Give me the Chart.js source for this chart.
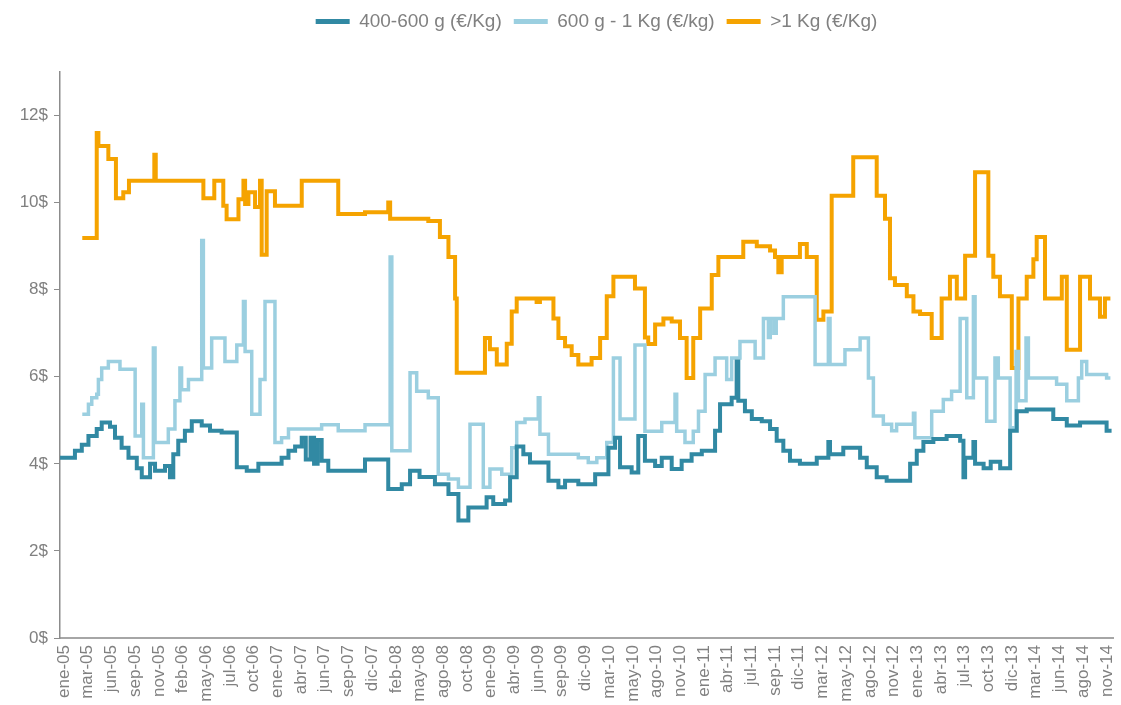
<!DOCTYPE html>
<html>
<head>
<meta charset="utf-8">
<script src="https://cdn.jsdelivr.net/npm/chart.js@4.4.0/dist/chart.umd.min.js"></script>
<style>
  html, body { margin: 0; padding: 0; background: #fff; }
</style>
</head>
<body>
<canvas id="chart" width="1121" height="705"></canvas>
<script>
/* ------------------------------------------------------------
   DATA  (x = position in tick-label units: 0 = ene-05 ... 44 = nov-14)
   each pair is [x, price] at the point where the price changes
   ------------------------------------------------------------ */
const tickLabels = [
  'ene-05', 'mar-05', 'jun-05', 'sep-05', 'nov-05',
  'feb-06', 'may-06', 'jul-06', 'oct-06',
  'ene-07', 'abr-07', 'jun-07', 'sep-07', 'dic-07',
  'feb-08', 'may-08', 'ago-08', 'oct-08',
  'ene-09', 'abr-09', 'jun-09', 'sep-09', 'dic-09',
  'mar-10', 'may-10', 'ago-10', 'nov-10',
  'ene-11', 'abr-11', 'jul-11', 'sep-11', 'dic-11',
  'mar-12', 'may-12', 'ago-12', 'nov-12',
  'ene-13', 'abr-13', 'jul-13', 'oct-13', 'dic-13',
  'mar-14', 'jun-14', 'ago-14', 'nov-14'
];

const yTicks = [0, 2, 4, 6, 8, 10, 12];

const seriesNames = ['400-600 g (€/Kg)', '600 g - 1 Kg (€/kg)', '>1 Kg (€/Kg)'];

// 400-600 g
const small400 = [
  [-0.17, 4.14], [0.46, 4.3], [0.75, 4.44], [1.03, 4.64], [1.38, 4.8], [1.59, 4.95],
  [1.94, 4.85], [2.15, 4.6], [2.43, 4.37], [2.72, 4.14], [3.07, 3.9], [3.28, 3.69],
  [3.63, 4.0], [3.84, 3.84], [4.26, 3.95], [4.47, 3.69], [4.61, 4.22], [4.82, 4.53],
  [5.1, 4.76], [5.39, 4.98], [5.81, 4.88], [6.16, 4.76], [6.65, 4.72], [7.29, 3.92],
  [7.71, 3.84], [8.2, 4.0], [9.18, 4.14], [9.47, 4.3], [9.75, 4.4], [10.03, 4.6],
  [10.2, 4.1], [10.4, 4.6], [10.55, 4.0], [10.7, 4.55], [10.87, 4.07], [11.15, 3.84],
  [12.7, 4.1], [13.68, 3.42], [14.25, 3.53], [14.6, 3.84], [15.0, 3.7], [15.65, 3.53],
  [16.22, 3.31], [16.64, 2.7], [17.06, 3.0], [17.83, 3.23], [18.11, 3.08], [18.61, 3.16],
  [18.82, 3.69], [19.1, 4.4], [19.38, 4.22], [19.66, 4.03], [20.44, 3.61], [20.86, 3.46],
  [21.14, 3.61], [21.7, 3.53], [22.41, 3.76], [22.97, 4.37], [23.25, 4.6], [23.46, 3.92],
  [23.95, 3.8], [24.23, 4.64], [24.51, 4.07], [24.94, 3.95], [25.22, 4.14], [25.64, 3.88],
  [26.06, 4.07], [26.48, 4.22], [26.91, 4.3], [27.47, 4.76], [27.68, 5.37], [28.17, 5.52],
  [28.38, 6.35], [28.45, 5.45], [28.73, 5.21], [29.02, 5.03], [29.44, 4.98], [29.79, 4.8],
  [30.07, 4.53], [30.35, 4.3], [30.63, 4.07], [31.05, 4.0], [31.76, 4.14], [32.25, 4.5],
  [32.32, 4.22], [32.88, 4.37], [33.59, 4.14], [33.87, 3.92], [34.29, 3.69], [34.71, 3.61],
  [35.7, 4.0], [35.98, 4.3], [36.26, 4.5], [36.68, 4.57], [37.24, 4.64], [37.81, 4.53],
  [37.95, 3.69], [38.02, 4.14], [38.37, 4.5], [38.44, 4.0], [38.8, 3.9], [39.1, 4.05],
  [39.5, 3.9], [39.92, 4.76], [40.2, 5.21], [40.62, 5.25], [41.74, 5.03], [42.31, 4.88],
  [42.87, 4.95], [43.99, 4.76], [44.2, 4.76]
];

// 600 g - 1 Kg
const mid600 = [
  [0.77, 5.14], [1.03, 5.37], [1.17, 5.52], [1.38, 5.6], [1.45, 5.94], [1.59, 6.2],
  [1.87, 6.35], [2.36, 6.17], [3.0, 4.64], [3.28, 5.37], [3.35, 4.14], [3.77, 6.66],
  [3.84, 4.49], [4.4, 4.8], [4.68, 5.45], [4.89, 6.2], [4.96, 5.7], [5.25, 5.94],
  [5.81, 9.13], [5.88, 6.2], [6.23, 6.89], [6.79, 6.35], [7.29, 6.73], [7.57, 7.73],
  [7.64, 6.58], [7.92, 5.14], [8.27, 5.94], [8.48, 7.73], [8.9, 4.49], [9.18, 4.6],
  [9.47, 4.8], [10.87, 4.9], [11.57, 4.76], [12.7, 4.9], [13.76, 8.75], [13.83, 4.3],
  [14.6, 6.09], [14.88, 5.67], [15.37, 5.52], [15.79, 3.76], [16.22, 3.65], [16.64, 3.46],
  [17.13, 4.91], [17.69, 3.46], [17.97, 3.88], [18.47, 3.76], [18.89, 4.37], [19.1, 4.95],
  [19.45, 5.03], [20.01, 5.52], [20.08, 4.68], [20.44, 4.22], [21.7, 4.14], [22.12, 4.03],
  [22.48, 4.14], [22.9, 4.49], [23.18, 6.43], [23.46, 5.03], [24.09, 6.73], [24.51, 4.75],
  [25.22, 4.95], [25.78, 5.6], [25.85, 4.75], [26.2, 4.49], [26.55, 4.75], [26.77, 5.21],
  [27.05, 6.05], [27.47, 6.43], [27.96, 5.94], [28.17, 6.43], [28.52, 6.81], [29.16, 6.43],
  [29.51, 7.34], [29.72, 6.9], [29.8, 7.34], [29.95, 7.0], [30.05, 7.34], [30.35, 7.84],
  [31.69, 6.28], [32.25, 7.34], [32.32, 6.28], [32.95, 6.62], [33.59, 6.89], [33.94, 5.97],
  [34.15, 5.1], [34.57, 4.91], [34.92, 4.76], [35.13, 4.91], [35.84, 5.16], [35.9, 4.6],
  [36.61, 5.21], [37.1, 5.48], [37.45, 5.67], [37.81, 7.34], [38.09, 5.52], [38.37, 7.84],
  [38.44, 5.97], [38.93, 4.98], [39.28, 6.43], [39.42, 5.97], [39.92, 4.83], [40.17, 6.58],
  [40.27, 5.45], [40.59, 6.89], [40.69, 5.97], [41.88, 5.83], [42.31, 5.45], [42.8, 5.97],
  [42.94, 6.35], [43.15, 6.05], [43.99, 5.97], [44.15, 5.97]
];

// > 1 Kg
const big1kg = [
  [0.77, 9.19], [1.38, 11.6], [1.45, 11.3], [1.87, 11.0], [2.19, 10.1], [2.5, 10.24],
  [2.74, 10.5], [3.81, 11.1], [3.87, 10.5], [5.88, 10.1], [6.34, 10.5], [6.72, 9.93],
  [6.86, 9.62], [7.36, 10.08], [7.57, 10.5], [7.64, 9.97], [7.78, 10.24], [8.06, 9.9],
  [8.27, 10.5], [8.34, 8.8], [8.55, 10.26], [8.9, 9.93], [10.03, 10.5], [11.57, 9.74],
  [12.7, 9.78], [13.68, 10.0], [13.76, 9.63], [15.37, 9.58], [15.86, 9.21], [16.22, 8.75],
  [16.5, 7.8], [16.57, 6.09], [17.76, 6.89], [17.97, 6.63], [18.26, 6.28], [18.68, 6.76],
  [18.89, 7.5], [19.1, 7.8], [19.94, 7.72], [20.08, 7.8], [20.65, 7.34], [20.86, 6.89],
  [21.14, 6.7], [21.42, 6.5], [21.7, 6.28], [22.26, 6.43], [22.62, 6.89], [22.9, 7.85],
  [23.18, 8.3], [24.09, 8.03], [24.51, 6.9], [24.65, 6.75], [24.94, 7.2], [25.29, 7.34],
  [25.64, 7.27], [25.99, 6.89], [26.27, 5.97], [26.55, 6.89], [26.84, 7.57], [27.33, 8.34],
  [27.61, 8.75], [28.66, 9.1], [29.23, 9.0], [29.79, 8.9], [30.0, 8.75], [30.14, 8.4],
  [30.28, 8.75], [31.05, 9.05], [31.34, 8.75], [31.76, 7.31], [32.04, 7.5], [32.39, 10.16],
  [33.3, 11.04], [34.29, 10.16], [34.64, 9.63], [34.85, 8.26], [35.06, 8.11], [35.56, 7.85],
  [35.84, 7.5], [36.12, 7.44], [36.61, 6.89], [37.03, 7.8], [37.38, 8.3], [37.67, 7.8],
  [38.02, 8.78], [38.44, 10.7], [39.0, 8.78], [39.21, 8.3], [39.49, 7.85], [39.99, 6.2],
  [40.27, 7.8], [40.62, 8.3], [40.9, 8.7], [41.04, 9.21], [41.39, 7.8], [42.1, 8.3],
  [42.31, 6.62], [42.87, 8.3], [43.29, 7.8], [43.71, 7.38], [43.92, 7.8], [44.15, 7.8]
];

/* ------------------------------------------------------------
   STYLE
   ------------------------------------------------------------ */
const FONT = "'Liberation Sans', Arial, sans-serif";
const TEXT_GREY = '#808080';
const COLORS = ['#3189a3', '#9bcfe0', '#f5a300'];

const makeSet = (name, data, color, width) => ({
  label: name,
  data: data,
  borderColor: color,
  backgroundColor: color,
  borderWidth: width,
  stepped: 'before',
  pointRadius: 0,
  fill: false
});

// Legend sits at the very top; push the plot down and nudge the legend right
const legendTweak = {
  id: 'legendTweak',
  beforeInit(chart) {
    const fit = chart.legend.fit;
    chart.legend.fit = function () {
      fit.call(this);
      this.height += 31;
    };
  },
  afterLayout(chart) {
    chart.legend.left += 40;
    chart.legend.right += 40;
  }
};

new Chart(document.getElementById('chart'), {
  type: 'line',
  data: {
    datasets: [
      makeSet(seriesNames[0], small400, COLORS[0], 4),
      makeSet(seriesNames[1], mid600, COLORS[1], 3.5),
      makeSet(seriesNames[2], big1kg, COLORS[2], 4)
    ]
  },
  plugins: [legendTweak],
  options: {
    responsive: false,
    devicePixelRatio: 1,
    animation: false,
    layout: { padding: { top: 0, right: 8, left: 0, bottom: 0 } },
    plugins: {
      tooltip: { enabled: false },
      legend: {
        position: 'top',
        labels: {
          boxWidth: 34,
          boxHeight: 5,
          padding: 12,
          color: TEXT_GREY,
          font: { family: FONT, size: 19 },
          generateLabels: chart => Chart.defaults.plugins.legend.labels.generateLabels(chart)
            .map(l => ({ ...l, lineWidth: 0 }))
        }
      }
    },
    scales: {
      x: {
        type: 'linear',
        min: -0.17,
        max: 44.26,
        afterBuildTicks: axis => { axis.ticks = tickLabels.map((_, i) => ({ value: i })); },
        afterFit: axis => { axis.height = 67; axis.paddingRight = 0; axis.paddingLeft = 0; },
        border: { display: true, color: '#a6a6a6', width: 2 },
        grid: { drawOnChartArea: false, drawTicks: false },
        ticks: {
          autoSkip: false,
          minRotation: 90,
          maxRotation: 90,
          padding: 7,
          color: TEXT_GREY,
          font: { family: FONT, size: 17 },
          callback: v => tickLabels[v]
        }
      },
      y: {
        min: 0,
        max: 13,
        afterBuildTicks: axis => { axis.ticks = yTicks.map(v => ({ value: v })); },
        afterFit: axis => { axis.width = 60; },
        border: { display: true, color: '#8c8c8c', width: 1.5 },
        grid: { drawOnChartArea: false, drawTicks: true, tickLength: 6, color: '#8c8c8c' },
        ticks: {
          padding: 6,
          color: TEXT_GREY,
          font: { family: FONT, size: 17 },
          callback: v => v + '$'
        }
      }
    }
  }
});
</script>
</body>
</html>
